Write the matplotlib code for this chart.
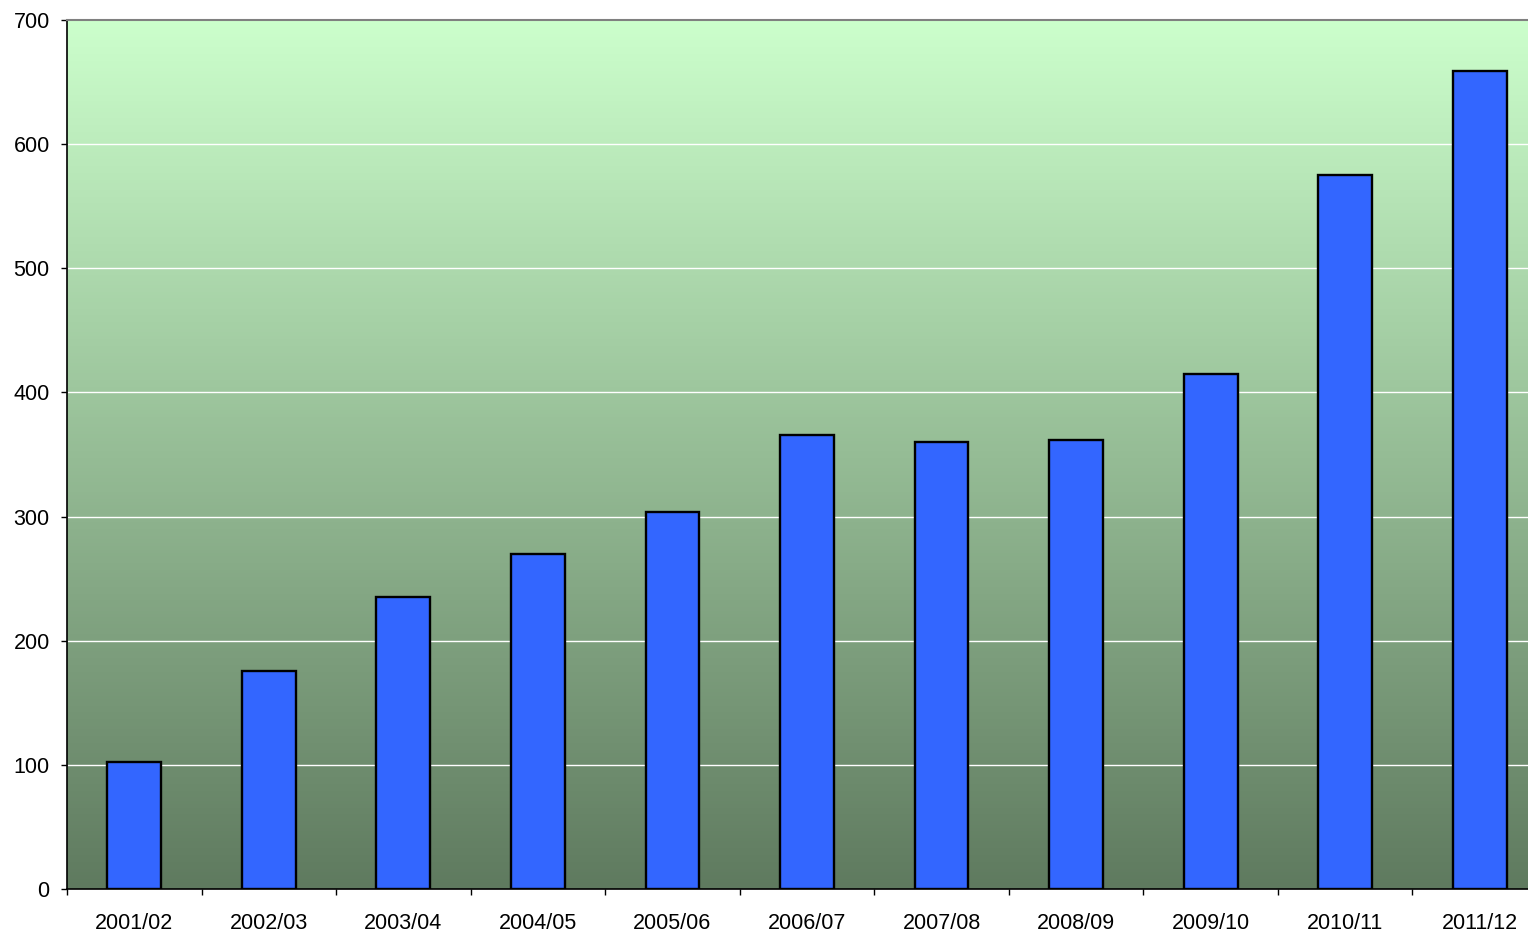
import matplotlib
matplotlib.use("Agg")
import matplotlib.pyplot as plt
import numpy as np
from matplotlib.colors import LinearSegmentedColormap

plt.rcParams['font.family'] = ['Liberation Sans', 'DejaVu Sans']

# data
seasons = ["2001/02", "2002/03", "2003/04", "2004/05", "2005/06", "2006/07",
           "2007/08", "2008/09", "2009/10", "2010/11", "2011/12"]
values = [102, 176, 235, 270, 304, 366, 360, 362, 415, 575, 659]

fig = plt.figure(figsize=(15.28, 9.31), dpi=100)
# plot area runs a bit past the right edge of the picture (cropped like the original)
ax = fig.add_axes([67/1528, 42/931, (1547 - 67)/1528, 869/931])

n = len(seasons)
x = np.arange(n)

# gradient background
cmap = LinearSegmentedColormap.from_list("bg", ["#5F7A5F", "#CCFFCC"])
grad = np.linspace(0, 1, 256).reshape(-1, 1)
ax.imshow(grad, extent=[-0.5, n - 0.5, 0, 700], origin="lower", aspect="auto",
          cmap=cmap, zorder=0)

for y in range(100, 700, 100):
    ax.axhline(y, color="white", lw=1, zorder=1)

ax.bar(x, values, width=0.40, color="#3366FF", edgecolor="black", linewidth=1.7, zorder=2)

ax.set_xlim(-0.5, n - 0.5)
ax.set_ylim(0, 700)
ax.set_yticks(range(0, 701, 100))
ax.set_xticks(x)
ax.set_xticklabels(seasons)
# category separator ticks
ax.set_xticks(np.arange(-0.5, n), minor=True)
ax.tick_params(axis="x", which="major", length=0, pad=17, labelsize=15.5)
ax.tick_params(axis="x", which="minor", length=4.5, width=1)
ax.tick_params(axis="y", length=4.5, width=1, pad=8, labelsize=15.5)

ax.spines["right"].set_visible(False)
ax.spines["top"].set_color("#808080")
ax.spines["top"].set_linewidth(1.5)
ax.spines["left"].set_linewidth(1.2)
ax.spines["bottom"].set_linewidth(1.2)

fig.savefig("out.png", dpi=100)
